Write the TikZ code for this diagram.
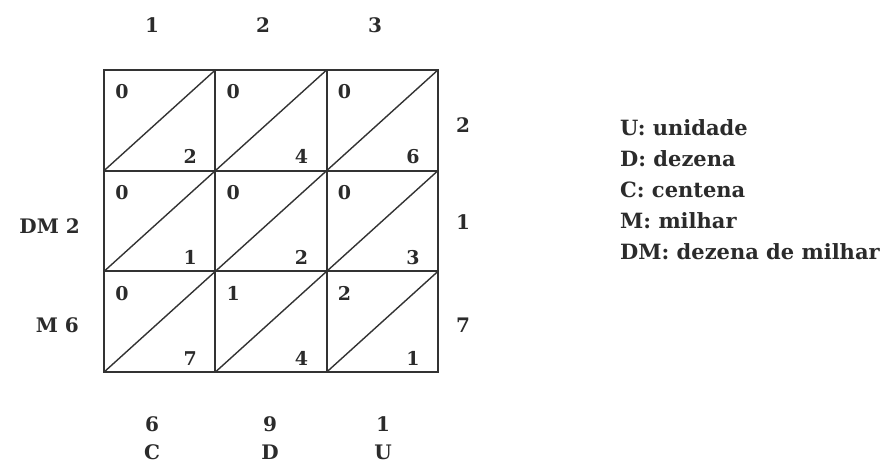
\documentclass[tikz,border=0pt]{standalone}
\usepackage{fontspec}
\setmainfont{DejaVu Serif}
\usetikzlibrary{positioning}
\definecolor{gridStroke}{HTML}{333333}
\definecolor{numTxt}{HTML}{2B2B2B}
\tikzset{
  num/.style={font=\bfseries\fontsize{20}{24}\selectfont, text=numTxt, inner sep=0pt},
  cellnum/.style={num, font=\bfseries\fontsize{19}{22}\selectfont},
  legend/.style={num, align=left, font=\bfseries\fontsize{21}{31}\selectfont, anchor=north west},
  frame/.style={draw=gridStroke, line width=2pt},
  diag/.style={draw=gridStroke, line width=1.4pt},
}

\begin{document}
\begin{tikzpicture}[x=1pt, y=-1pt]
  \useasboundingbox[fill=white] (0,0) rectangle (892,467);

  % lattice, one unit per cell
  \begin{scope}[shift={(104,70)}, x=111.3pt, y=-100.7pt]
    \foreach \r in {1,2,3}
      \foreach \c in {1,2,3}
        \draw[diag] (\c-1,\r) -- (\c,\r-1);
    \draw[frame] (0,0) rectangle (3,3);
    \foreach \k in {1,2} {
      \draw[frame] (\k,0) -- (\k,3);
      \draw[frame] (0,\k) -- (3,\k);
    }
    \foreach \r/\c/\t/\b in {1/1/0/2, 1/2/0/4, 1/3/0/6,
                             2/1/0/1, 2/2/0/2, 2/3/0/3,
                             3/1/0/7, 3/2/1/4, 3/3/2/1} {
      \node[cellnum, xshift=18pt, yshift=-22pt] (t\r\c) at (\c-1,\r-1) {\t};
      \node[cellnum, xshift=-25pt, yshift=14pt] (b\r\c) at (\c,\r) {\b};
    }
  \end{scope}

  % factors
  \node[num] (col1) at (152,25) {1};
  \node[num] (col2) at (263,25) {2};
  \node[num] (col3) at (375,25) {3};
  \node[num] (row1) at (463,125) {2};
  \node[num] (row2) at (463,222) {1};
  \node[num] (row3) at (463,325) {7};

  % carries on the left
  \node[num, anchor=east] (dm) at (80,226) {DM 2};
  \node[num, anchor=east] (m) at (79,325) {M 6};

  % result
  \node[num] (resC) at (152,424) {6};
  \node[num] (resD) at (270,424) {9};
  \node[num] (resU) at (383,424) {1};
  \node[num, below=13pt of resC] (ordC) {C};
  \node[num, below=13pt of resD] (ordD) {D};
  \node[num, below=13pt of resU] (ordU) {U};

  \node[legend] (key) at (620,119)
    {U: unidade\\D: dezena\\C: centena\\M: milhar\\DM: dezena de milhar};
\end{tikzpicture}
\end{document}
